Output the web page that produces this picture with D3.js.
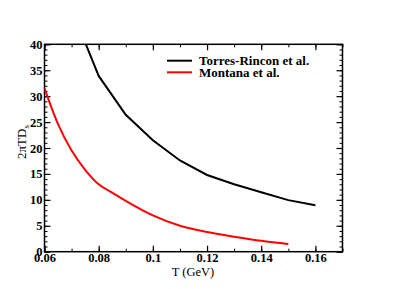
<!DOCTYPE html>
<html>
<head>
    <script src="https://d3js.org/d3.v7.min.js"></script>
    <style>
        body { margin: 0; background: #fff; }
    </style>
</head>
<body>
    <svg width="410" height="289"></svg>
    <script>
        // Données des courbes
        const tTorres = [0.07, 0.08, 0.09, 0.10, 0.11, 0.12, 0.13, 0.14, 0.15, 0.16];
        const dTorres = [46.8, 33.9, 26.4, 21.5, 17.6, 14.8, 13.0, 11.45, 9.95, 8.95];
        const tMontana = [0.06, 0.065, 0.07, 0.075, 0.08, 0.085, 0.09, 0.10, 0.11, 0.12, 0.13, 0.14, 0.15];
        const dMontana = [31.5, 24.6, 19.5, 15.8, 13.0, 11.4, 9.8, 7.0, 5.0, 3.8, 2.9, 2.1, 1.5];
        const xTicks = [0.06, 0.08, 0.1, 0.12, 0.14, 0.16];
        const yTicks = [0, 5, 10, 15, 20, 25, 30, 35, 40];
        const legendNames = ["Torres-Rincon et al.", "Montana et al."];
        const colors = ["#000000", "#ff0000"];

        const serif = '"Liberation Serif", "Times New Roman", serif';
        const svg = d3.select("svg").style("font-family", serif);
        const pLeft = 44.5, pRight = 342.5, pTop = 44.3, pBottom = 251.7;

        const x = d3.scaleLinear().domain([0.06, 0.17]).range([pLeft, pRight]);
        const y = d3.scaleLinear().domain([0, 40]).range([pBottom, pTop]);

        // Clip pour la courbe noire
        svg.append("clipPath").attr("id", "clip")
            .append("rect")
            .attr("x", pLeft).attr("y", pTop)
            .attr("width", pRight - pLeft).attr("height", pBottom - pTop);

        const xMinor = d3.range(0.06, 0.1701, 0.01);
        const yMinor = d3.range(0, 40.01, 1);

        // Graduations (intérieures, sur les quatre côtés)
        const axes = [
            [d3.axisBottom(x), pBottom, 0, xTicks, xMinor, true, 1.5],
            [d3.axisTop(x), pTop, 0, xTicks, xMinor, false, 1.5],
            [d3.axisLeft(y), 0, pLeft, yTicks, yMinor, true, 2],
            [d3.axisRight(y), 0, pRight, yTicks, yMinor, false, 2]
        ];
        axes.forEach(([ax, ty, tx, major, minor, labels, pad]) => {
            svg.append("g")
                .attr("transform", `translate(${tx},${ty})`)
                .call(ax.tickValues(minor).tickSize(-3).tickFormat(""))
                .call(g => g.select(".domain").remove())
                .selectAll("line").attr("stroke", "#000").attr("stroke-width", 1);
            const g = svg.append("g")
                .attr("transform", `translate(${tx},${ty})`)
                .call(ax.tickValues(major).tickSize(-6).tickPadding(pad)
                    .tickFormat(labels ? d3.format("") : ""));
            g.attr("font-family", null);
            g.select(".domain").remove();
            g.selectAll("line").attr("stroke", "#000").attr("stroke-width", 1.2);
            g.selectAll("text")
                .attr("fill", "#000")
                .style("font-family", serif)
                .style("font-size", "12.5px")
                .style("font-weight", "bold");
        });

        // Cadre
        svg.append("rect")
            .attr("x", pLeft).attr("y", pTop)
            .attr("width", pRight - pLeft).attr("height", pBottom - pTop)
            .attr("fill", "none").attr("stroke", "#000").attr("stroke-width", 1.5);

        // Courbes
        const straight = d3.line().x(d => x(d[0])).y(d => y(d[1]));
        const smooth = d3.line().x(d => x(d[0])).y(d => y(d[1])).curve(d3.curveMonotoneX);
        const series = [d3.zip(tTorres, dTorres), d3.zip(tMontana, dMontana)];
        svg.selectAll("path.curve")
            .data(series)
            .enter()
            .append("path")
            .attr("class", "curve")
            .attr("clip-path", "url(#clip)")
            .attr("fill", "none")
            .attr("stroke", (d, i) => colors[i])
            .attr("stroke-width", 2)
            .attr("d", (d, i) => i === 0 ? straight(d) : smooth(d));

        // Légende
        legendNames.forEach((name, i) => {
            const ly = 60.7 + i * 11.6;
            svg.append("line")
                .attr("x1", 167).attr("x2", 192)
                .attr("y1", ly).attr("y2", ly)
                .attr("stroke", colors[i]).attr("stroke-width", 2);
            svg.append("text")
                .attr("x", 199).attr("y", ly + 4.5)
                .style("font-size", "13px")
                .style("font-weight", "bold")
                .text(name);
        });

        // Titres des axes
        svg.append("text")
            .attr("x", 193).attr("y", 276)
            .attr("text-anchor", "middle")
            .style("font-size", "12.5px")
            .text("T (GeV)");

        const yl = svg.append("text")
            .attr("transform", "translate(25.5,142) rotate(-90)")
            .attr("text-anchor", "middle")
            .style("font-size", "13px");
        yl.append("tspan").text("2\u03c0TD");
        yl.append("tspan").attr("dy", 3).style("font-size", "9px").text("s");
    </script>
</body>
</html>
